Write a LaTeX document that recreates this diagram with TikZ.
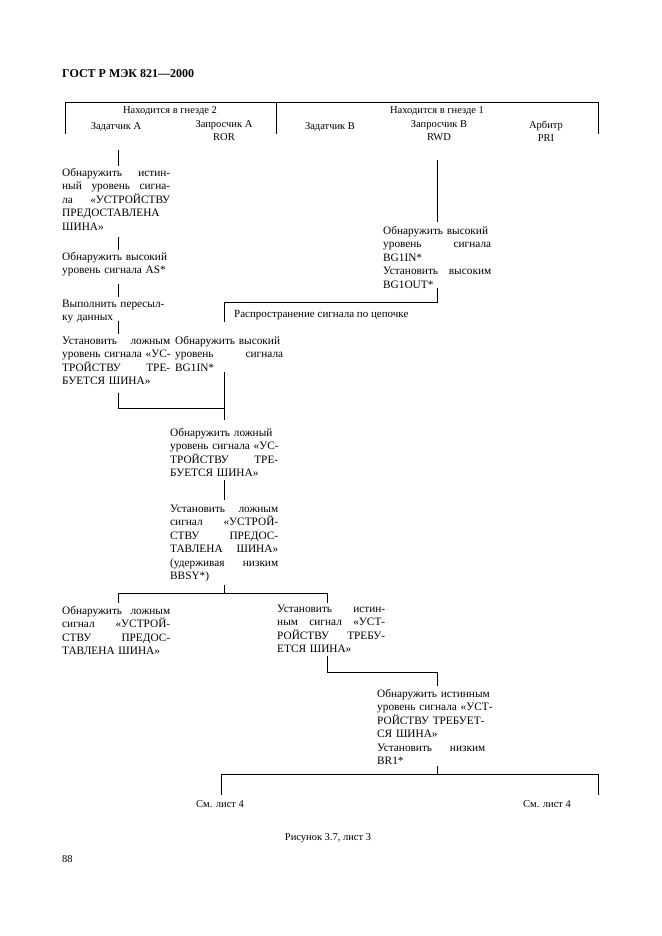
\documentclass[tikz,border=0pt]{standalone}
\usepackage{fontspec}
\setmainfont{Liberation Serif}
\newcommand{\sj}[1]{\makebox[108pt][l]{#1}}
\begin{document}
\begin{tikzpicture}[x=1pt,y=-1pt,
  blk/.style={anchor=base west,inner sep=0pt,text width=110pt,align=left,font=\fontsize{11.3}{13.5}\selectfont},
  hd/.style={inner sep=0pt,anchor=base,font=\fontsize{10.5}{13}\selectfont,align=center},
  hd2/.style={hd,anchor=north},
  ln/.style={line width=0.6pt}]
\useasboundingbox (0,0) rectangle (661,936);
\node[anchor=base west,inner sep=0pt,font=\bfseries\fontsize{12}{13}\selectfont] (title) at (62,78) {ГОСТ Р МЭК 821---2000};
% header
\coordinate (h1) at (65,134); \coordinate (h2) at (65,102); \coordinate (h3) at (598,102); \coordinate (h4) at (598,134);
\coordinate (hm1) at (276,102); \coordinate (hm2) at (276,134);
\draw[ln] (h1)--(h2)--(h3)--(h4); \draw[ln] (hm1)--(hm2);
\node[hd] (g2) at (170,114) {Находится в гнезде 2};
\node[hd] (g1) at (437,114) {Находится в гнезде 1};
\node[hd] (za) at (116,130) {Задатчик А};
\node[hd2] (qa) at (224,120.5) {Запросчик А\\ROR};
\node[hd] (zb) at (330,130) {Задатчик В};
\node[hd2] (qb) at (439,120.5) {Запросчик В\\RWD};
\node[hd2] (ar) at (546,120.5) {Арбитр\\PRI};
% blocks
\node[blk] (b1) at (62,176) {\sj{Обнаружить\hfill истин-}\\\sj{ный\hfill уровень\hfill сигна-}\\\sj{ла\hfill «УСТРОЙСТВУ}\\\sj{ПРЕДОСТАВЛЕНА}\\ШИНА»};
\node[blk] (b2) at (62,260) {Обнаружить высокий\\уровень сигнала AS*};
\node[blk] (b3) at (62,307) {Выполнить пересыл-\\ку данных};
\node[blk] (b4) at (62,344) {\sj{Установить\hfill ложным}\\\sj{уровень сигнала «УС-}\\\sj{ТРОЙСТВУ\hfill ТРЕ-}\\БУЕТСЯ ШИНА»};
\node[blk] (b5) at (175,344) {\sj{Обнаружить высокий}\\\sj{уровень\hfill сигнала}\\BG1IN*};
\node[blk] (rb) at (383,234) {\sj{Обнаружить высокий}\\\sj{уровень\hfill сигнала}\\BG1IN*\\\sj{Установить\hfill высоким}\\BG1OUT*};
\node[anchor=base west,inner sep=0pt,font=\fontsize{11}{13.5}\selectfont] (chain) at (234,317) {Распространение сигнала по цепочке};
\node[blk] (b6) at (170,436) {\sj{Обнаружить ложный}\\\sj{уровень сигнала «УС-}\\\sj{ТРОЙСТВУ\hfill ТРЕ-}\\БУЕТСЯ ШИНА»};
\node[blk] (b7) at (170,512) {\sj{Установить\hfill ложным}\\\sj{сигнал\hfill «УСТРОЙ-}\\\sj{СТВУ\hfill ПРЕДОС-}\\\sj{ТАВЛЕНА\hfill ШИНА»}\\\sj{(удерживая\hfill низким}\\BBSY*)};
\node[blk] (b8) at (62,614) {\sj{Обнаружить\hfill ложным}\\\sj{сигнал\hfill «УСТРОЙ-}\\\sj{СТВУ\hfill ПРЕДОС-}\\ТАВЛЕНА ШИНА»};
\node[blk] (b9) at (277,612) {\sj{Установить\hfill истин-}\\\sj{ным\hfill сигнал\hfill «УСТ-}\\\sj{РОЙСТВУ\hfill ТРЕБУ-}\\ЕТСЯ ШИНА»};
\node[blk] (b10) at (377,697) {\sj{Обнаружить истинным}\\\sj{уровень сигнала «УСТ-}\\\sj{РОЙСТВУ ТРЕБУЕТ-}\\СЯ ШИНА»\\\sj{Установить\hfill низким}\\BR1*};
\node[hd] (s1) at (220,807) {См. лист 4};
\node[hd] (s2) at (547,807) {См. лист 4};
\node[hd] (cap) at (328,840) {Рисунок 3.7, лист 3};
\node[hd,anchor=base west] (pg) at (62,862) {88};
% connectors
\coordinate (a0) at (118,150); \coordinate (a1) at (118,166);
\coordinate (a2) at (118,237); \coordinate (a3) at (118,250);
\coordinate (a4) at (118,284); \coordinate (a5) at (118,297);
\coordinate (a6) at (118,321); \coordinate (a7) at (118,334);
\coordinate (a8) at (118,393); \coordinate (a9) at (118,408);
\coordinate (c1) at (224,372); \coordinate (c2) at (224,408); \coordinate (c3) at (224,420);
\coordinate (r0) at (437,160); \coordinate (r1) at (437,222);
\coordinate (r2) at (437,288); \coordinate (r3) at (437,302);
\coordinate (d1) at (224,302); \coordinate (d2) at (224,322);
\coordinate (e1) at (224,480); \coordinate (e2) at (224,500);
\coordinate (f1) at (224,585); \coordinate (f2) at (224,593);
\coordinate (f3) at (118,593); \coordinate (f4) at (118,603);
\coordinate (f5) at (327,593); \coordinate (f6) at (327,603);
\coordinate (k1) at (327,656); \coordinate (k2) at (327,672);
\coordinate (k3) at (437,672); \coordinate (k4) at (437,686);
\coordinate (m1) at (437,766); \coordinate (m2) at (437,774);
\coordinate (m3) at (221,774); \coordinate (m4) at (221,795);
\coordinate (m5) at (598,774); \coordinate (m6) at (598,795);
\draw[ln] (a0)--(a1); \draw[ln] (a2)--(a3); \draw[ln] (a4)--(a5); \draw[ln] (a6)--(a7);
\draw[ln] (a8)--(a9)--(c2); \draw[ln] (c1)--(c3);
\draw[ln] (r0)--(r1); \draw[ln] (r2)--(r3)--(d1)--(d2);
\draw[ln] (e1)--(e2); \draw[ln] (f1)--(f2);
\draw[ln] (f4)--(f3)--(f5)--(f6);
\draw[ln] (k1)--(k2)--(k3)--(k4);
\draw[ln] (m1)--(m2); \draw[ln] (m4)--(m3)--(m5)--(m6);
\end{tikzpicture}
\end{document}
